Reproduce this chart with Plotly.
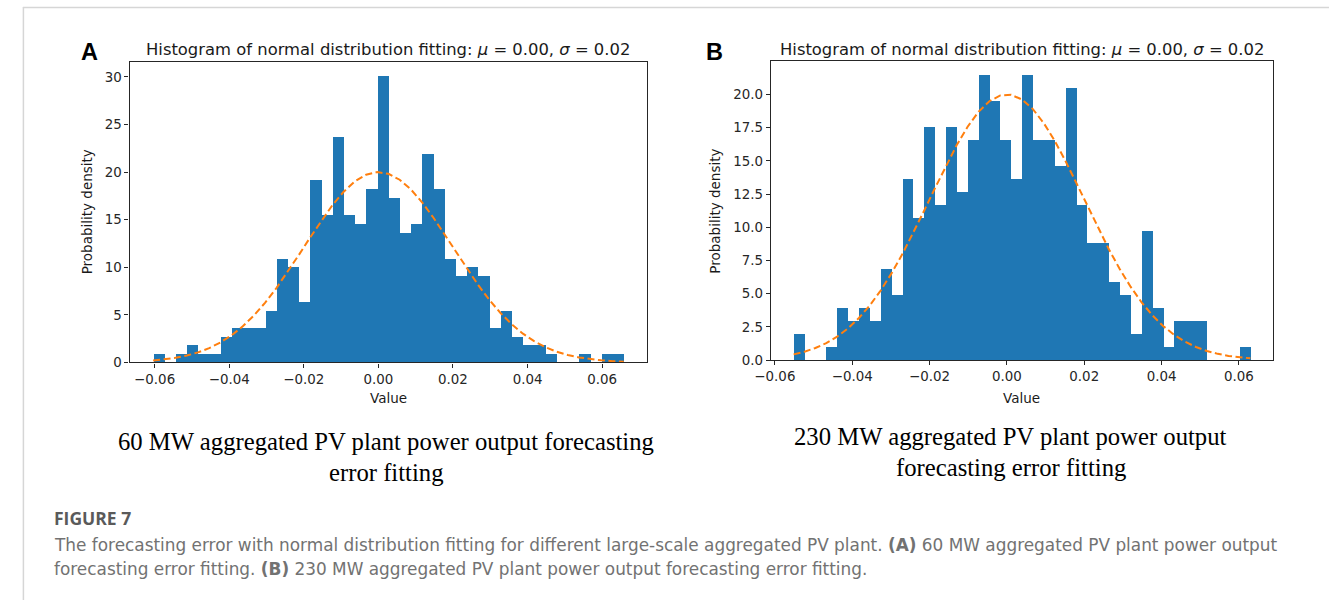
import numpy as np
import plotly.graph_objects as go

# ---------------- data ----------------
# Panel A: 60 MW plant, histogram densities (42 bins)
A_first_edge = -0.0604
A_bin_width = 0.003005
A_density = [0.91, 0, 0.91, 1.82, 0.91, 0.91, 2.74, 3.65, 3.65, 3.65,
             5.47, 10.94, 10.03, 6.38, 19.15, 15.50, 23.71, 15.50, 14.59, 18.24,
             30.09, 17.32, 13.68, 14.59, 21.88, 18.24, 10.94, 9.12, 10.03, 9.12,
             3.65, 5.47, 2.74, 1.82, 1.82, 0.91, 0, 0, 0.91, 0, 0.91, 0.91]
A_mu = 0.0
A_sigma = 0.01995

# Panel B: 230 MW plant, histogram densities (42 bins)
B_first_edge = -0.05515
B_bin_width = 0.002812
B_density = [1.95, 0, 0, 0.97, 3.90, 2.92, 3.90, 2.92, 6.82, 4.87,
             13.64, 10.72, 17.54, 11.69, 17.54, 12.67, 16.56, 21.43, 19.49, 16.56,
             13.64, 21.43, 16.56, 16.56, 14.61, 20.46, 11.69, 8.77, 8.77, 5.85,
             4.87, 1.95, 9.74, 3.90, 0.97, 2.92, 2.92, 2.92, 0, 0, 0, 0.97]
B_mu = 0.0
B_sigma = 0.01995

x_tickvals = [-0.06, -0.04, -0.02, 0.0, 0.02, 0.04, 0.06]
x_ticktext = ["\u22120.06", "\u22120.04", "\u22120.02", "0.00", "0.02", "0.04", "0.06"]
A_ytickvals = [0, 5, 10, 15, 20, 25, 30]
A_yticktext = ["0", "5", "10", "15", "20", "25", "30"]
B_ytickvals = [0, 2.5, 5, 7.5, 10, 12.5, 15, 17.5, 20]
B_yticktext = ["0.0", "2.5", "5.0", "7.5", "10.0", "12.5", "15.0", "17.5", "20.0"]

plot_title = "Histogram of normal distribution fitting: <i>\u03bc</i> = 0.00, <i>\u03c3</i> = 0.02"
A_caption = ["60 MW aggregated PV plant power output forecasting", "error fitting"]
B_caption = ["230 MW aggregated PV plant power output", "forecasting error fitting"]
fig_label = "FIGURE 7"
fig_caption = [
    "The forecasting error with normal distribution fitting for different large-scale aggregated PV plant. "
    "<b>(A)</b> 60 MW aggregated PV plant power output",
    "forecasting error fitting. <b>(B)</b> 230 MW aggregated PV plant power output forecasting error fitting.",
]

# ---------------- figure ----------------
W, H = 1329, 608
def px(x):
    return x / W
def py(y):
    return 1 - y / H

BLUE = "#1f77b4"
ORANGE = "#ff7f0e"
AX = "#262626"
FONT = "DejaVu Sans"

fig = go.Figure()

def add_panel(first_edge, width, dens, mu, sigma, xa, ya):
    n = len(dens)
    edges = first_edge + width * np.arange(n + 1)
    centers = edges[:-1] + width / 2
    pdf = np.exp(-(edges - mu) ** 2 / (2 * sigma ** 2)) / (sigma * np.sqrt(2 * np.pi))
    fig.add_trace(go.Bar(x=centers, y=dens, width=width, marker=dict(color=BLUE, line=dict(width=0)),
                         xaxis=xa, yaxis=ya, showlegend=False, hoverinfo="x+y"))
    fig.add_trace(go.Scatter(x=edges, y=pdf, mode="lines",
                             line=dict(color=ORANGE, width=2, dash="7px,3.5px"),
                             xaxis=xa, yaxis=ya, showlegend=False))
    lo, hi = edges[0], edges[-1]
    pad = 0.05 * (hi - lo)
    xr = [lo - pad, hi + pad]
    yr = [0, 1.05 * max(max(dens), pdf.max())]
    return xr, yr

A_xr, A_yr = add_panel(A_first_edge, A_bin_width, A_density, A_mu, A_sigma, "x", "y")
B_xr, B_yr = add_panel(B_first_edge, B_bin_width, B_density, B_mu, B_sigma, "x2", "y2")

axis_common = dict(showline=True, mirror=True, linecolor=AX, linewidth=1.3, ticks="outside",
                   ticklen=4, tickwidth=1.1, tickcolor=AX, showgrid=False, zeroline=False,
                   tickfont=dict(family=FONT, size=13.4, color=AX))

# pixel boxes of the axes
A_box = (115, 639, 62.5, 367.3)    # left, right, top, bottom
B_box = (764, 1272.5, 62, 365)

fig.update_layout(
    width=W, height=H, margin=dict(l=0, r=0, t=0, b=0),
    paper_bgcolor="white", plot_bgcolor="white", bargap=0, showlegend=False,
    xaxis=dict(domain=[px(A_box[0]), px(A_box[1])], range=A_xr, anchor="y",
               tickvals=x_tickvals, ticktext=x_ticktext, **axis_common),
    yaxis=dict(domain=[py(A_box[3]), py(A_box[2])], range=A_yr, anchor="x",
               tickvals=A_ytickvals, ticktext=A_yticktext, **axis_common),
    xaxis2=dict(domain=[px(B_box[0]), px(B_box[1])], range=B_xr, anchor="y2",
                tickvals=x_tickvals, ticktext=x_ticktext, **axis_common),
    yaxis2=dict(domain=[py(B_box[3]), py(B_box[2])], range=B_yr, anchor="x2",
                tickvals=B_ytickvals, ticktext=B_yticktext, **axis_common),
)

ann = []
def text(x, y, s, size, family=FONT, color="#1a1a1a", xanchor="center", yanchor="middle", angle=0):
    ann.append(dict(x=px(x), y=py(y), xref="paper", yref="paper", text=s, showarrow=False,
                    xanchor=xanchor, yanchor=yanchor, textangle=angle,
                    font=dict(family=family, size=size, color=color)))

for box, letter, lx in ((A_box, "<b>A</b>", 74), (B_box, "<b>B</b>", 707)):
    cx = (box[0] + box[1]) / 2
    text(cx, 50, plot_title, 16.4)
    text(cx, 403, "Value", 13.5)
    text(lx, 53, letter, 23.5, family="Liberation Sans", color="black")

text(72, 215, "Probability density", 13.5, angle=-90)
text(708, 214, "Probability density", 13.5, angle=-90)

text(375, 447, A_caption[0], 24.7, family="Liberation Serif", color="black")
text(375, 479, A_caption[1], 24.7, family="Liberation Serif", color="black")
text(1007, 442, B_caption[0], 24.7, family="Liberation Serif", color="black")
text(1007, 474, B_caption[1], 24.7, family="Liberation Serif", color="black")

text(36, 525, "<b>" + fig_label + "</b>", 17.5, family="Open Sans", color="#5a5a5a", xanchor="left")
text(36, 552, fig_caption[0], 16.9, family=FONT, color="#727272", xanchor="left")
text(36, 577, fig_caption[1], 16.9, family=FONT, color="#727272", xanchor="left")

fig.update_layout(annotations=ann)

fig.update_layout(shapes=[
    dict(type="line", xref="paper", yref="paper", x0=px(7), x1=1, y0=py(7.5), y1=py(7.5),
         line=dict(color="#d6d6d6", width=1.5)),
    dict(type="line", xref="paper", yref="paper", x0=px(7.5), x1=px(7.5), y0=py(7), y1=0,
         line=dict(color="#d6d6d6", width=1.5)),
])

fig.write_html("out.html", config={"displayModeBar": False},
               post_script="document.body.style.margin='0';")
